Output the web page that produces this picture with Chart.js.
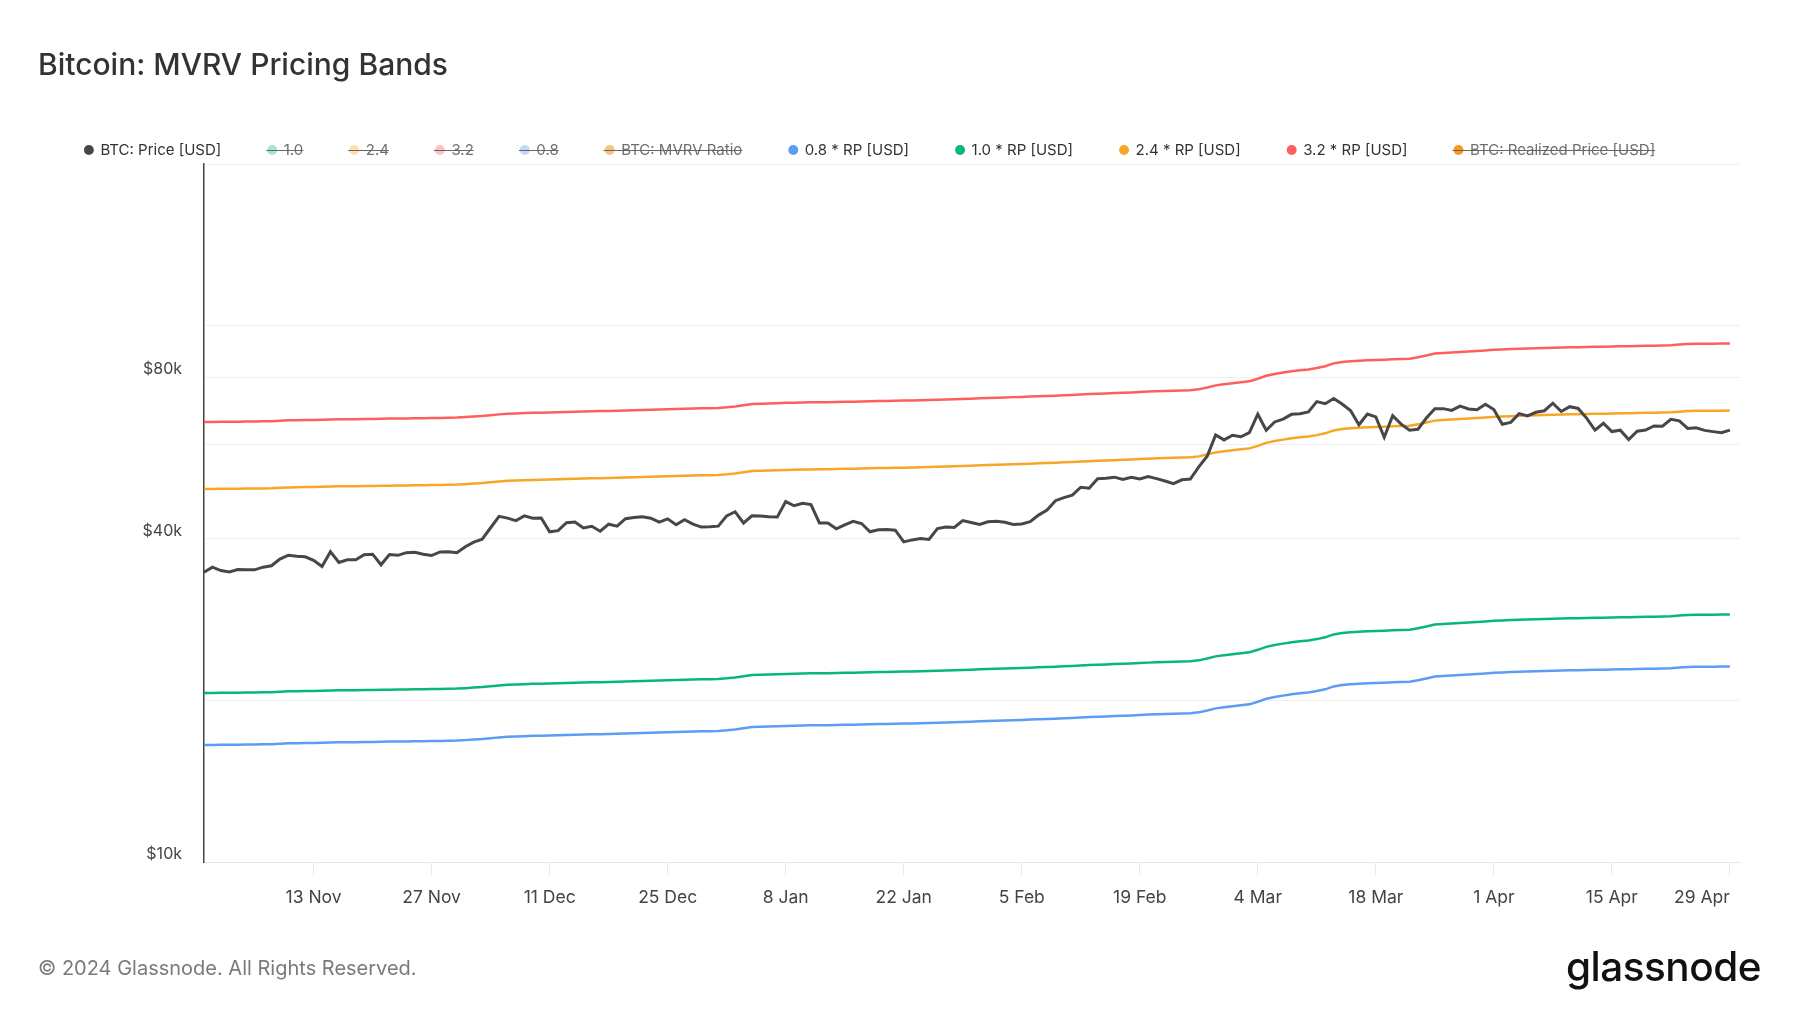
<!DOCTYPE html>
<html>
<head>
<meta charset="utf-8">
<title>Bitcoin: MVRV Pricing Bands</title>
<script src="https://cdn.jsdelivr.net/npm/chart.js@4.4.1/dist/chart.umd.min.js"></script>
<style>
  html, body { margin: 0; padding: 0; background: #fff; }
  #wrap { position: relative; width: 1800px; height: 1013px; overflow: hidden; font-family: Inter, "Noto Sans", sans-serif; }
  #chart { position: absolute; left: 0; top: 0; }
  .title { position: absolute; left: 38px; top: 45px; font-size: 30px; line-height: 38px; font-weight: 500; color: #333; }
  .copy { position: absolute; left: 38px; top: 955px; font-size: 20px; line-height: 26px; color: #7a7a7a; }
  .logo { position: absolute; right: 39px; top: 942px; font-size: 40.5px; line-height: 50px; font-weight: 500; color: #111; letter-spacing: -0.5px; }
</style>
</head>
<body>
<div id="wrap">
  <canvas id="chart" width="1800" height="1013"></canvas>
  <div class="title">Bitcoin: MVRV Pricing Bands</div>
  <div class="copy">© 2024 Glassnode. All Rights Reserved.</div>
  <div class="logo">glassnode</div>
</div>
<script>
// daily values, 31 Oct 2023 -> 29 Apr 2024
const startDate = "2023-10-31";

const btcPrice = [
  34667,
  35437, 34938, 34732, 35082, 35050, 35037, 35443, 35655, 36693, 37313,
  37138, 37054, 36502, 35537, 37880, 36155, 36596, 36585, 37386, 37476,
  35813, 37432, 37289, 37721, 37797, 37479, 37254, 37831, 37858, 37712,
  38688, 39476, 39978, 41980, 44080, 43746, 43292, 44166, 43725, 43779,
  41244, 41450, 42890, 43023, 41929, 42241, 41364, 42623, 42270, 43652,
  43870, 43997, 43739, 43017, 43613, 42520, 43443, 42627, 42100, 42142, 42265,
  44167, 44958, 42848, 44179, 44162, 43989, 43943, 46970, 46139, 46627,
  46369, 42853, 42842, 41796, 42511, 43154, 42742, 41262, 41619, 41665,
  41545, 39507, 39845, 40077, 39934, 41816, 42120, 42036, 43300, 42946, 42582,
  43075, 43185, 42992, 42583, 42659, 43084, 44318, 45301, 47147, 47771,
  48293, 49958, 49742, 51826, 51938, 52160, 51663, 52122, 51780, 52284,
  51839, 51304, 50731, 51571, 51733, 54522, 57085, 62504, 61198,
  62440, 62029, 63167, 68330, 63801, 66106, 66925, 68300, 68498, 69019,
  72123, 71481, 73083, 71397, 69403, 65316, 68390, 67548, 61912, 67913,
  65491, 63779, 64062, 67234, 69958, 69987, 69455, 70744, 69892, 69646, 71333,
  69702, 65446, 65980, 68508, 67837, 68896, 69362, 71631, 69139, 70587,
  70060, 67195, 63821, 65738, 63427, 63811, 61276, 63512, 63843, 64994,
  64927, 66837, 66408, 64276, 64482, 63755, 63419, 63114, 63842
];

const realizedPrice = [
  20650,
  20660, 20670, 20680, 20685, 20690, 20700, 20710, 20730, 20770, 20800,
  20815, 20825, 20835, 20850, 20880, 20890, 20900, 20905, 20915, 20930,
  20940, 20955, 20965, 20975, 20985, 20995, 21005, 21020, 21035, 21050,
  21090, 21140, 21190, 21260, 21340, 21400, 21430, 21455, 21480, 21500,
  21520, 21540, 21560, 21580, 21600, 21620, 21640, 21660, 21680, 21700,
  21725, 21745, 21770, 21790, 21815, 21840, 21860, 21880, 21900, 21920, 21940,
  22000, 22080, 22200, 22310, 22340, 22360, 22390, 22420, 22440, 22460,
  22470, 22480, 22490, 22500, 22520, 22540, 22560, 22580, 22600, 22610,
  22620, 22640, 22660, 22680, 22700, 22720, 22740, 22770, 22800, 22830, 22860,
  22890, 22920, 22950, 22980, 23000, 23030, 23060, 23090, 23120, 23160,
  23200, 23240, 23280, 23320, 23350, 23380, 23420, 23450, 23490, 23530,
  23560, 23590, 23620, 23650, 23680, 23760, 23950, 24170, 24290,
  24400, 24490, 24590, 24860, 25180, 25380, 25530, 25680, 25780, 25880,
  26030, 26230, 26560, 26730, 26800, 26860, 26910, 26950, 26990, 27030,
  27060, 27100, 27260, 27480, 27700, 27780, 27840, 27900, 27960, 28020, 28080,
  28150, 28200, 28240, 28280, 28320, 28350, 28380, 28410, 28440, 28460,
  28480, 28500, 28520, 28540, 28560, 28580, 28600, 28620, 28640, 28660,
  28680, 28710, 28790, 28870, 28890, 28900, 28910, 28915, 28920
];

const bandMultipliers = [0.8, 1.0, 2.4, 3.2];
const bandColors = ["#5b9cf7", "#07b872", "#f7a627", "#ff5e5e"];

const xTickDays = [0, 13, 27, 41, 55, 69, 83, 97, 111, 125, 139, 153, 167, 181];
const xTickLabels = ["", "13 Nov", "27 Nov", "11 Dec", "25 Dec", "8 Jan", "22 Jan", "5 Feb", "19 Feb", "4 Mar", "18 Mar", "1 Apr", "15 Apr", "29 Apr"];

const yGridValues = [10000, 20000, 40000, 60000, 80000, 100000, 200000];
const yLabelValues = [10000, 40000, 80000];
const yLabelTexts = ["$10k", "$40k", "$80k"];

const days = btcPrice.map((v, i) => i);

function line(label, data, color, width) {
  return {
    label: label,
    data: data,
    borderColor: color,
    backgroundColor: color,
    borderWidth: width || 2.5,
    pointRadius: 0,
    pointHoverRadius: 0,
    tension: 0,
    fill: false
  };
}

function ghost(label, color, data) {
  const d = line(label, data || [], color);
  d.hidden = true;
  return d;
}

const bands = bandMultipliers.map((m, k) =>
  line(m.toFixed(1) + " * RP [USD]", realizedPrice.map(v => v * m), bandColors[k])
);

const datasets = [
  line("BTC: Price [USD]", btcPrice, "#474747", 3),
  ghost("1.0", "#a6e6cb"),
  ghost("2.4", "#fde1ad"),
  ghost("3.2", "#ffc2c2"),
  ghost("0.8", "#c3d8fb"),
  ghost("BTC: MVRV Ratio", "#f6c383"),
  bands[0], bands[1], bands[2], bands[3],
  ghost("BTC: Realized Price [USD]", "#f39a1f", realizedPrice)
];

const strikePlugin = {
  id: "strike",
  afterDraw(chart) {
    const lg = chart.legend;
    if (!lg || !lg.legendItems) return;
    const ctx = chart.ctx;
    ctx.save();
    ctx.strokeStyle = "#666";
    ctx.lineWidth = 1;
    lg.legendItems.forEach((it, i) => {
      if (!it.struck) return;
      const hb = lg.legendHitBoxes[i];
      const y = Math.round(hb.top + hb.height / 2) + 0.5;
      ctx.beginPath();
      ctx.moveTo(hb.left - 2, y);
      ctx.lineTo(hb.left + hb.width, y);
      ctx.stroke();
    });
    ctx.restore();
  }
};

const ctx = document.getElementById("chart").getContext("2d");
Chart.defaults.font.family = "Inter, 'Noto Sans', sans-serif";

new Chart(ctx, {
  type: "line",
  data: { labels: days, datasets: datasets },
  plugins: [strikePlugin],
  options: {
    responsive: false,
    animation: false,
    layout: { padding: { top: 95.5, right: 60, bottom: 93, left: 0 } },
    plugins: {
      tooltip: { enabled: false },
      legend: {
        position: "top",
        align: "center",
        maxHeight: 68.5,
        labels: {
          usePointStyle: true,
          pointStyle: "circle",
          boxWidth: 8,
          boxHeight: 7,
          padding: 47,
          color: "#333",
          font: { size: 15 },
          generateLabels(chart) {
            const items = Chart.defaults.plugins.legend.labels.generateLabels(chart);
            items.forEach(it => {
              it.struck = it.hidden;
              it.hidden = false;
              it.fontColor = it.struck ? "#6f6f6f" : "#333";
              it.lineWidth = 0;
            });
            return items;
          }
        }
      }
    },
    scales: {
      x: {
        type: "linear",
        min: 0,
        max: 182.2,
        afterBuildTicks(axis) {
          axis.ticks = xTickDays.map(v => ({ value: v }));
        },
        ticks: {
          autoSkip: false,
          maxRotation: 0,
          align: "inner",
          padding: 12,
          color: "#444",
          font: { size: 17.5 },
          callback(value) {
            const i = xTickDays.indexOf(value);
            return i >= 0 ? xTickLabels[i] : "";
          }
        },
        grid: {
          drawOnChartArea: false,
          drawTicks: true,
          tickLength: 13,
          color: c => (c.tick && c.tick.value === 0 ? "rgba(0,0,0,0)" : "#e9e9e9")
        },
        border: { color: "#e6e6e6", width: 1 }
      },
      y: {
        type: "logarithmic",
        min: 10000,
        max: 200000,
        afterBuildTicks(axis) {
          axis.ticks = yGridValues.map(v => ({ value: v }));
        },
        afterFit(scale) {
          scale.width = 204;
        },
        ticks: {
          autoSkip: false,
          padding: 22,
          labelOffset: -8,
          color: "#444",
          font: { size: 16 },
          callback(value) {
            const i = yLabelValues.indexOf(value);
            return i >= 0 ? yLabelTexts[i] : "";
          }
        },
        grid: { color: "#efefef", drawTicks: false },
        border: { color: "#444", width: 1.5 }
      }
    }
  }
});
</script>
</body>
</html>
